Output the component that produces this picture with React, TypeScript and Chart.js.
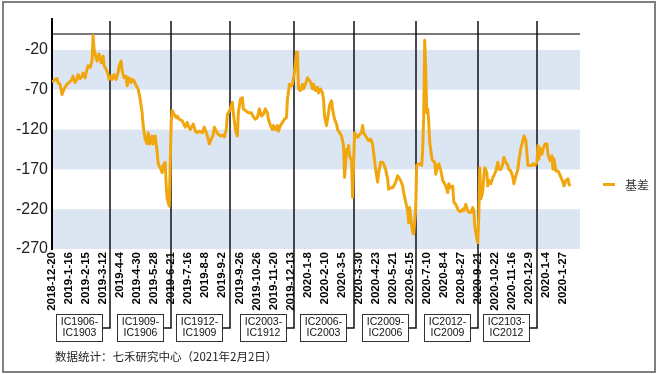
import React, { useEffect, useRef } from "react";
import { Chart, registerables } from "chart.js";

Chart.register(...registerables);

// ---- data ----
const SERIES_NAME = "基差";
const LABEL_STEP = 17; // trading days between axis labels
const X_LABELS = [
  "2018-12-20", "2019-1-16", "2019-2-15", "2019-3-12", "2019-4-4", "2019-4-30",
  "2019-5-28", "2019-6-21", "2019-7-16", "2019-8-8", "2019-9-2", "2019-9-26",
  "2019-10-26", "2019-11-20", "2019-12-13", "2020-1-8", "2020-2-10", "2020-3-5",
  "2020-3-30", "2020-4-23", "2020-5-21", "2020-6-15", "2020-7-10", "2020-8-4",
  "2020-8-27", "2020-9-21", "2020-10-22", "2020-11-16", "2020-12-9", "2020-1-4",
  "2020-1-27",
];
const X_MAX_DAY = 527;
const Y_TICKS = [-270, -220, -170, -120, -70, -20];
const Y_MIN = -270;
const Y_MAX = 0;

// trading-day index of each reading
const DAYS = [
  0, 3, 5, 6, 8, 10, 12, 15, 17, 20, 21, 23, 25, 26, 28, 30, 31, 33, 35, 36, 38, 40, 41, 42, 44, 45, 47, 49, 51, 52,
  54, 56, 57, 59, 60, 62, 64, 66, 67, 69, 70, 72, 74, 75, 77, 79, 80, 82, 84, 86, 88, 90, 91, 93, 95, 96, 98, 100, 101, 103,
  105, 106, 108, 110, 111, 113, 114, 115, 117, 119, 120, 122, 124, 125, 127, 130, 131, 133, 135, 136, 138, 141, 143, 145, 147, 150, 152, 154, 156, 157,
  159, 161, 162, 164, 166, 168, 170, 172, 174, 175, 176, 178, 180, 181, 183, 185, 186, 188, 190, 191, 194, 196, 199, 201, 203, 205, 207, 209, 211, 213,
  215, 216, 218, 220, 221, 223, 225, 226, 228, 230, 232, 234, 235, 237, 239, 240, 242, 244, 245, 246, 248, 250, 251, 253, 255, 256, 258, 260, 261, 263,
  265, 266, 268, 270, 271, 272, 274, 275, 277, 279, 280, 282, 284, 285, 287, 289, 290, 291, 292, 294, 295, 296, 297, 299, 300, 302, 304, 305, 307, 309,
  310, 311, 313, 315, 316, 318, 320, 321, 323, 325, 326, 328, 330, 331, 333, 335, 336, 338, 340, 341, 343, 345, 346, 348, 350, 351, 353, 355, 356, 357,
  359, 360, 361, 363, 364, 366, 367, 369, 370, 371, 372, 373, 374, 375, 376, 377, 379, 380, 382, 383, 385, 386, 388, 390, 391, 393, 395, 396, 398, 400,
  401, 403, 405, 406, 408, 410, 411, 413, 415, 416, 418, 420, 421, 422, 424, 425, 426, 427, 428, 429, 430, 431, 432, 434, 435, 436, 438, 440, 441, 443,
  445, 446, 448, 450, 451, 453, 455, 456, 458, 460, 461, 463, 465, 466, 468, 470, 471, 473, 474, 475, 477, 479, 480, 482, 484, 485, 486, 487, 489, 490,
  492, 494, 495, 497, 499, 500, 501, 503, 505, 506, 508, 510, 511, 513, 515, 516, 517,
];
// basis value of each reading
const BASIS = [
  -61, -57, -56, -61, -63, -76, -69, -63, -61, -57, -53, -61, -57, -51, -56, -53, -49, -55, -44, -40, -42, -34, -2, -19, -30, -34, -25, -36, -28, -40,
  -44, -51, -57, -53, -57, -51, -57, -48, -40, -34, -46, -55, -53, -65, -55, -61, -57, -59, -65, -69, -82, -99, -115, -132, -138, -124, -138, -128, -138, -128,
  -149, -163, -168, -174, -165, -161, -191, -207, -216, -110, -96, -101, -105, -103, -107, -109, -112, -117, -111, -115, -120, -113, -122, -124, -122, -124, -117, -124, -132, -138,
  -132, -126, -117, -122, -126, -128, -127, -129, -120, -101, -99, -94, -86, -99, -120, -128, -99, -82, -80, -94, -97, -99, -99, -104, -107, -105, -94, -103, -101, -94,
  -99, -107, -115, -120, -115, -120, -115, -122, -115, -111, -107, -105, -82, -63, -65, -63, -48, -23, -23, -69, -71, -63, -69, -63, -55, -57, -60, -69, -63, -71,
  -67, -74, -69, -74, -82, -103, -115, -107, -90, -84, -94, -107, -113, -120, -124, -128, -134, -140, -180, -145, -149, -140, -153, -159, -205, -124, -128, -130, -126, -124,
  -115, -124, -128, -132, -134, -132, -138, -149, -170, -186, -174, -161, -161, -163, -170, -182, -195, -193, -193, -191, -186, -178, -180, -184, -191, -199, -211, -222, -237, -218,
  -241, -249, -251, -220, -165, -163, -163, -165, -145, -103, -8, -44, -99, -94, -111, -136, -155, -159, -161, -176, -165, -163, -171, -184, -186, -191, -199, -188, -193, -191,
  -211, -214, -220, -222, -223, -220, -222, -214, -222, -224, -224, -218, -222, -241, -257, -262, -228, -168, -207, -203, -197, -178, -168, -174, -191, -184, -188, -180, -178, -172,
  -161, -170, -170, -163, -155, -161, -165, -170, -172, -180, -188, -178, -170, -159, -143, -134, -128, -134, -149, -165, -165, -165, -163, -165, -161, -140, -157, -143, -151, -145,
  -138, -138, -151, -159, -153, -170, -157, -172, -172, -174, -180, -186, -191, -184, -182, -188, -191,
];

// contract roll dates (trading-day index) and their spread labels
const ROLL_DAYS = [58, 119, 178, 242, 301, 363, 425, 484];
const ROLL_LABELS = [
  ["IC1906-", "IC1903"],
  ["IC1909-", "IC1906"],
  ["IC1912-", "IC1909"],
  ["IC2003-", "IC1912"],
  ["IC2006-", "IC2003"],
  ["IC2009-", "IC2006"],
  ["IC2012-", "IC2009"],
  ["IC2103-", "IC2012"],
];
const FOOTER = "数据统计：七禾研究中心（2021年2月2日）";

// ---- styles ----
const LINE_COLOR = "#f2a60e";
const BAND_COLOR = "#dce6f2";
const FONT = "'Liberation Sans', Arial, sans-serif";
const CJK = "'Noto Sans CJK SC', 'Liberation Sans', sans-serif";

const decorPlugin = {
  id: "decor",
  beforeDatasetsDraw(chart: any) {
    const { ctx, chartArea: ca, scales } = chart;
    const x = scales.x;
    const y = scales.y;
    ctx.save();
    // bands
    ctx.fillStyle = BAND_COLOR;
    for (let i = 0; i + 1 < Y_TICKS.length; i += 2) {
      const y1 = y.getPixelForValue(Y_TICKS[i]);
      const y2 = y.getPixelForValue(Y_TICKS[i + 1]);
      ctx.fillRect(ca.left, Math.min(y1, y2), ca.right - ca.left, Math.abs(y1 - y2));
    }
    // top line at max
    ctx.strokeStyle = "#4d4d4d";
    ctx.lineWidth = 1.5;
    const yt = y.getPixelForValue(Y_MAX);
    ctx.beginPath();
    ctx.moveTo(ca.left, yt);
    ctx.lineTo(ca.right, yt);
    ctx.stroke();
    // y axis line
    ctx.strokeStyle = "#000";
    ctx.lineWidth = 2;
    ctx.beginPath();
    ctx.moveTo(ca.left, 18);
    ctx.lineTo(ca.left, ca.bottom + 1);
    ctx.stroke();
    // roll lines with labelled boxes
    const boxW = 46;
    const boxH = 27;
    const boxTop = 314;
    const hookY = 328;
    ROLL_DAYS.forEach((d, i) => {
      const px = Math.round(x.getPixelForValue(d));
      ctx.strokeStyle = "#111";
      ctx.lineWidth = 1.5;
      ctx.beginPath();
      ctx.moveTo(px, 21);
      ctx.lineTo(px, hookY);
      ctx.lineTo(px - 8, hookY);
      ctx.stroke();
      const bx = px - 8 - boxW;
      ctx.fillStyle = "#fff";
      ctx.fillRect(bx, boxTop, boxW, boxH);
      ctx.strokeStyle = "#333";
      ctx.lineWidth = 1;
      ctx.strokeRect(bx + 0.5, boxTop + 0.5, boxW, boxH);
      ctx.fillStyle = "#111";
      ctx.font = `10.5px ${FONT}`;
      ctx.textAlign = "center";
      ctx.textBaseline = "middle";
      ctx.fillText(ROLL_LABELS[i][0], bx + boxW / 2 + 0.5, boxTop + 8.5);
      ctx.fillText(ROLL_LABELS[i][1], bx + boxW / 2 + 0.5, boxTop + 19.5);
    });
    ctx.restore();
  },
  afterDraw(chart: any) {
    const { ctx } = chart;
    ctx.save();
    // legend
    ctx.fillStyle = LINE_COLOR;
    ctx.fillRect(603, 183, 12, 3);
    ctx.fillStyle = "#333";
    ctx.font = `12px ${CJK}`;
    ctx.textAlign = "left";
    ctx.textBaseline = "middle";
    ctx.fillText(SERIES_NAME, 625, 185);
    // footer
    ctx.fillStyle = "#222";
    ctx.font = `11.5px ${CJK}`;
    ctx.fillText(FOOTER, 55, 357);
    // outer frame
    ctx.strokeStyle = "#808080";
    ctx.lineWidth = 2;
    ctx.strokeRect(3, 2, 652, 370);
    ctx.restore();
  },
};

export default function App() {
  const ref = useRef<HTMLCanvasElement | null>(null);
  useEffect(() => {
    if (!ref.current) return;
    const points = DAYS.map((d, i) => ({ x: d, y: BASIS[i] }));
    const chart = new Chart(ref.current, {
      type: "line",
      data: {
        datasets: [
          {
            label: SERIES_NAME,
            data: points,
            borderColor: LINE_COLOR,
            backgroundColor: LINE_COLOR,
            borderWidth: 3,
            pointRadius: 0,
            tension: 0,
            borderJoinStyle: "round",
          },
        ],
      },
      options: {
        animation: false,
        responsive: false,
        devicePixelRatio: 1,
        layout: { padding: { top: 34, right: 79, left: 0, bottom: 0 } },
        plugins: { legend: { display: false }, tooltip: { enabled: false } },
        scales: {
          x: {
            type: "linear",
            min: 0,
            max: X_MAX_DAY,
            grid: { display: false, drawTicks: false },
            border: { display: false },
            afterBuildTicks: (s: any) => {
              s.ticks = X_LABELS.map((_, i) => ({ value: i * LABEL_STEP }));
            },
            afterFit: (s: any) => {
              s.height = 125;
            },
            ticks: {
              autoSkip: false,
              maxRotation: 90,
              minRotation: 90,
              padding: 3,
              color: "#000",
              font: { family: FONT, size: 11.5, weight: "bold" },
              callback: (_v: any, i: number) => X_LABELS[i],
            },
          },
          y: {
            type: "linear",
            min: Y_MIN,
            max: Y_MAX,
            grid: { display: false, drawTicks: false },
            border: { display: false },
            afterBuildTicks: (s: any) => {
              s.ticks = Y_TICKS.map((v) => ({ value: v }));
            },
            afterFit: (s: any) => {
              s.width = 52;
            },
            ticks: {
              padding: 4,
              color: "#222",
              font: { family: FONT, size: 16 },
              callback: (v: any) => String(v),
            },
          },
        },
      },
      plugins: [decorPlugin],
    });
    return () => chart.destroy();
  }, []);
  return (
    <div style={{ position: "fixed", left: 0, top: 0, width: 659, height: 374, background: "#fff" }}>
      <canvas ref={ref} width={659} height={374} style={{ display: "block" }} />
    </div>
  );
}
